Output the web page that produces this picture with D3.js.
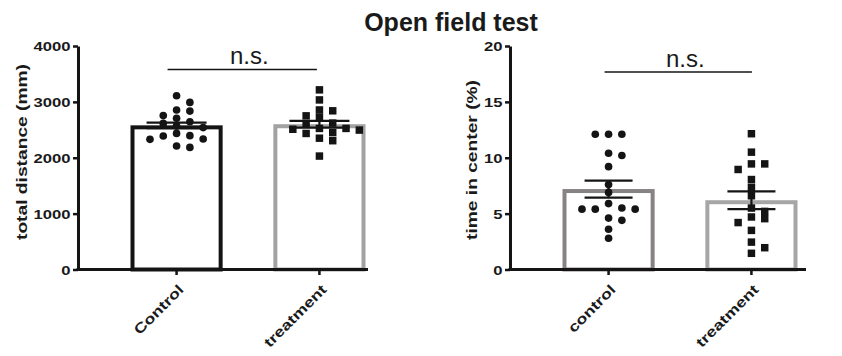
<!DOCTYPE html>
<html>
<head>
<meta charset="utf-8">
<script src="https://cdn.jsdelivr.net/npm/d3@7"></script>
<style>
  html, body { margin: 0; padding: 0; background: #ffffff; }
  svg { display: block; }
  text { font-family: "Liberation Sans", Arial, Helvetica, sans-serif; fill: #1a1a1a; }
</style>
</head>
<body>
<svg id="chart" width="842" height="356"></svg>
<script>
// ---- data ----
const chartTitle = "Open field test";
const sigLabel = "n.s.";

const distCategories = ["Control", "treatment"];
const distTicks = [0, 1000, 2000, 3000, 4000];
const distControl = [3110, 2990, 2855, 2835, 2755, 2705, 2645, 2615, 2570, 2540, 2435, 2395, 2390, 2335, 2330, 2210, 2185];
const distTreatment = [3215, 3035, 2855, 2840, 2750, 2725, 2620, 2610, 2525, 2525, 2510, 2495, 2450, 2435, 2350, 2305, 2030];
const distMean = [2580, 2600];
const distSem = [50, 60];

const centerCategories = ["control", "treatment"];
const centerTicks = [0, 5, 10, 15, 20];
const centerControl = [12.1, 12.1, 12.1, 10.4, 10.2, 9.2, 7.6, 6.9, 5.9, 5.5, 5.4, 5.4, 5.4, 4.6, 4.4, 3.6, 2.8];
const centerTreatment = [12.15, 10.5, 9.45, 9.45, 8.95, 8.05, 7.35, 6.6, 5.5, 5.2, 4.7, 4.55, 4.2, 3.5, 2.45, 1.95, 1.45];
const centerMean = [7.2, 6.2];
const centerSem = [0.76, 0.79];

// ---- layout ----
const svg = d3.select("#chart");
const INK = "#141414";
const STRETCH = 1.28;   // axis lettering is set wide

// widen text along its own direction
function widen(sel, k) {
  sel.each(function () {
    const len = this.getComputedTextLength();
    d3.select(this).attr("textLength", len * k).attr("lengthAdjust", "spacingAndGlyphs");
  });
}

// simple row-based beeswarm: points close in y are pushed sideways
function swarm(values, y, cx, spacing, dyMin) {
  const order = values.map((v, i) => i).sort((a, b) => values[b] - values[a]);
  const placed = [];
  const out = new Array(values.length);
  order.forEach(i => {
    const py = y(values[i]);
    for (let k = 0; k < 40; k++) {
      const m = Math.ceil(k / 2) * (k % 2 === 1 ? 1 : -1);
      const off = m * spacing / 2;
      const hit = placed.some(p => Math.abs(p.y - py) < dyMin && Math.abs(p.x - (cx + off)) < spacing - 0.5);
      if (!hit) {
        const pt = { x: cx + off, y: py };
        placed.push(pt);
        out[i] = pt;
        break;
      }
    }
  });
  return out;
}

function panel(o) {
  const g = svg.append("g");
  const yTop = 46, yBot = 269.5;
  const y = d3.scaleLinear().domain([o.ticks[0], o.ticks[o.ticks.length - 1]]).range([yBot, yTop]);
  const x = d3.scalePoint().domain(o.categories).range([o.x0, o.x0 + 340]).padding(0.69);
  const barW = x.step() * 0.645;

  // bars (outline inset so its outer edge sits at the mean)
  const sw = 4;
  g.selectAll("rect.bar").data(o.categories).join("rect")
    .attr("class", "bar")
    .attr("x", d => x(d) - barW / 2 + sw / 2)
    .attr("width", barW - sw)
    .attr("y", (d, i) => y(o.mean[i]) + sw / 2)
    .attr("height", (d, i) => yBot - y(o.mean[i]) - sw / 2)
    .attr("fill", "#ffffff")
    .attr("stroke", (d, i) => o.barColors[i])
    .attr("stroke-width", sw);

  // individual animals
  const groups = [o.seriesA, o.seriesB];
  groups.forEach((vals, gi) => {
    const pts = swarm(vals, y, x(o.categories[gi]), 13.3, 7);
    const sym = d3.symbol().type(gi === 0 ? d3.symbolCircle : d3.symbolSquare).size(gi === 0 ? 46 : 56);
    g.append("g").selectAll("path").data(pts).join("path")
      .attr("transform", p => `translate(${p.x},${p.y})`)
      .attr("d", sym)
      .attr("fill", INK);
  });

  // mean ± SEM
  o.categories.forEach((c, i) => {
    const cx = x(c), hi = y(o.mean[i] + o.sem[i]), lo = y(o.mean[i] - o.sem[i]);
    const eb = g.append("g").attr("stroke", INK).attr("stroke-width", 2.2).attr("fill", "none");
    eb.append("line").attr("x1", cx).attr("x2", cx).attr("y1", hi).attr("y2", lo);
    eb.append("line").attr("x1", cx - o.cap / 2).attr("x2", cx + o.cap / 2).attr("y1", hi).attr("y2", hi);
    eb.append("line").attr("x1", cx - o.cap / 2).attr("x2", cx + o.cap / 2).attr("y1", lo).attr("y2", lo);
  });

  // y axis
  const ya = g.append("g").attr("transform", `translate(${o.x0},0)`)
    .call(d3.axisLeft(y).tickValues(o.ticks).tickFormat(d3.format("d"))
      .tickSize(5).tickSizeOuter(0).tickPadding(2.5));
  ya.select(".domain").attr("stroke", INK).attr("stroke-width", 3);
  ya.selectAll(".tick line").attr("stroke", INK).attr("stroke-width", 2.5);
  ya.selectAll(".tick text").attr("font-size", 13).attr("font-weight", "bold").attr("fill", INK)
    .attr("font-family", "Liberation Sans, Arial, sans-serif").attr("dy", "0.35em");
  widen(ya.selectAll(".tick text"), STRETCH);

  // x axis
  const xa = g.append("g");
  xa.append("line").attr("x1", o.x0 - 1.5).attr("x2", o.x0 + o.xLen).attr("y1", yBot).attr("y2", yBot)
    .attr("stroke", INK).attr("stroke-width", 3);
  o.categories.forEach(c => {
    xa.append("line").attr("x1", x(c)).attr("x2", x(c)).attr("y1", yBot).attr("y2", yBot + 5.5)
      .attr("stroke", INK).attr("stroke-width", 2.5);
  });
  const cl = xa.selectAll("text.cat").data(o.categories).join("text")
    .attr("class", "cat")
    .attr("transform", d => `translate(${x(d) + 8},${yBot + 21}) rotate(-45)`)
    .attr("text-anchor", "end")
    .attr("font-size", 14).attr("font-weight", "bold")
    .text(d => d);
  widen(cl, STRETCH);

  // axis title
  const at = g.append("text")
    .attr("transform", `translate(${o.titleX},${o.titleY}) rotate(-90)`)
    .attr("text-anchor", "middle")
    .attr("font-size", 15).attr("font-weight", "bold")
    .text(o.yTitle);
  widen(at, STRETCH);

  // significance bracket
  const sx1 = x(o.categories[0]) + o.sig[0], sx2 = x(o.categories[1]) + o.sig[1];
  g.append("line").attr("x1", sx1).attr("x2", sx2).attr("y1", o.sigY).attr("y2", o.sigY)
    .attr("stroke", INK).attr("stroke-width", 1.6);
  g.append("text").attr("x", (sx1 + sx2) / 2 + 7).attr("y", o.sigY - 5.5)
    .attr("text-anchor", "middle").attr("font-size", 24).attr("fill", "#222")
    .text(sigLabel);
}

panel({
  x0: 78, xLen: 290, categories: distCategories, ticks: distTicks,
  seriesA: distControl, seriesB: distTreatment, mean: distMean, sem: distSem,
  barColors: ["#141414", "#a2a2a2"], cap: 60,
  yTitle: "total distance (mm)", titleX: 26.5, titleY: 152,
  sig: [-9, -2.5], sigY: 69.5
});

panel({
  x0: 510, xLen: 296, categories: centerCategories, ticks: centerTicks,
  seriesA: centerControl, seriesB: centerTreatment, mean: centerMean, sem: centerSem,
  barColors: ["#878385", "#a6a6a6"], cap: 48,
  yTitle: "time in center (%)", titleX: 477, titleY: 160,
  sig: [-4, 0.5], sigY: 72
});

// chart title
svg.append("text")
  .attr("x", 451).attr("y", 31)
  .attr("text-anchor", "middle")
  .attr("font-size", 25).attr("font-weight", "bold").attr("fill", "#222")
  .text(chartTitle);
</script>
</body>
</html>
